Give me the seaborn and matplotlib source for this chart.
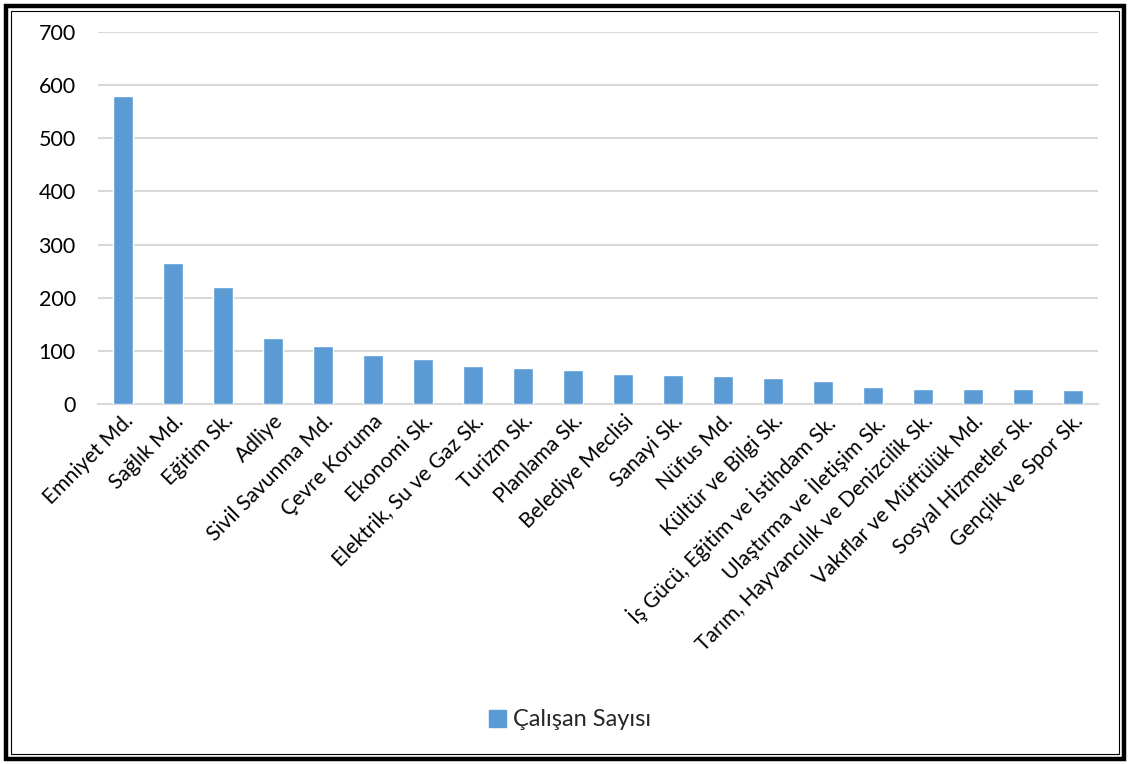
import numpy as np
import pandas as pd
import seaborn as sns
import matplotlib.pyplot as plt
from matplotlib.patches import Rectangle, Patch

# data
birimler = ["Emniyet Md.", "Sağlık Md.", "Eğitim Sk.", "Adliye", "Sivil Savunma Md.",
            "Çevre Koruma", "Ekonomi Sk.", "Elektrik, Su ve Gaz Sk.", "Turizm Sk.",
            "Planlama Sk.", "Belediye Meclisi", "Sanayi Sk.", "Nüfus Md.",
            "Kültür ve Bilgi Sk.", "İş Gücü, Eğitim ve İstihdam Sk.",
            "Ulaştırma ve İletişim Sk.", "Tarım, Hayvancılık ve Denizcilik Sk.",
            "Vakıflar ve Müftülük Md.", "Sosyal Hizmetler Sk.", "Gençlik ve Spor Sk."]
calisan = [580, 265, 220, 125, 110, 93, 84, 72, 67, 64, 57, 54, 52, 48, 43, 32, 29, 29, 28, 27]
y_ticks = [0, 100, 200, 300, 400, 500, 600, 700]
seri_adi = "Çalışan Sayısı"

df = pd.DataFrame({"Birim": birimler, "Sayi": calisan})

sns.set_style("white")
plt.rcParams['font.family'] = ['Lato', 'DejaVu Sans']
bar_color = "#5b9bd5"

fig = plt.figure(figsize=(11.29, 7.64), dpi=100)
ax = fig.add_axes([98/1129, 1-404/764, 1000/1129, 372/764])

sns.barplot(data=df, x="Birim", y="Sayi", color=bar_color, width=0.4,
            saturation=1, ax=ax, zorder=3)

ax.set_ylim(0, 700)
ax.set_yticks(y_ticks)
ax.set_xlim(-0.5, len(birimler) - 0.5)
ax.grid(axis="y", color="#d9d9d9", linewidth=1.5, zorder=0)
for s in ["top", "right", "left"]:
    ax.spines[s].set_visible(False)
ax.spines["bottom"].set_color("#d9d9d9")
ax.spines["bottom"].set_linewidth(1.5)
ax.set_xlabel("")
ax.set_ylabel("")
ax.tick_params(axis="y", length=0, labelsize=15.5, pad=16, colors="black")
ax.tick_params(axis="x", length=0, labelsize=15.2, pad=5, colors="black")
plt.setp(ax.get_xticklabels(), rotation=45, ha="right", rotation_mode="anchor")

fig.legend(handles=[Patch(color=bar_color, label=seri_adi)], loc="center",
           bbox_to_anchor=(0.505, 1-720/764), frameon=False, fontsize=17,
           handlelength=0.75, handleheight=0.75, handletextpad=0.3)

# double frame around the picture
fig.add_artist(Rectangle((5.5/1129, 5.5/764), 1-11/1129, 1-11/764,
                         transform=fig.transFigure, fill=False, ec="black", lw=3.2))
fig.add_artist(Rectangle((10.5/1129, 10.5/764), 1-21/1129, 1-21/764,
                         transform=fig.transFigure, fill=False, ec="black", lw=0.8))

fig.savefig("out.png", dpi=100)
